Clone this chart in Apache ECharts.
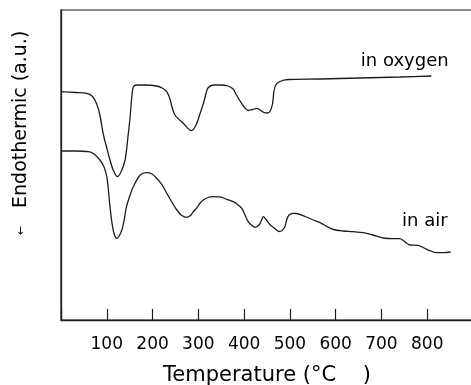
<!DOCTYPE html>
<html>
<head>
<meta charset="utf-8">
<script src="https://cdn.jsdelivr.net/npm/echarts@6/dist/echarts.min.js"></script>
<style>
  html, body { margin: 0; padding: 0; background: #fff; }
  #chart { width: 471px; height: 385px; }
</style>
</head>
<body>
<div id="chart"></div>
<script>
// DTA traces: temperature (°C) and heat-flow signal (arbitrary units)
const oxygenTemp = [0, 31, 56, 68, 78, 85, 92, 100, 107, 114, 123, 131, 140, 146, 151, 155, 158, 165, 183, 209, 221, 231, 238, 242, 249, 267, 285, 295, 304, 312, 317, 321, 333, 347, 365, 376, 382, 391, 400, 409, 419, 427, 435, 443, 451, 457, 462, 465, 469, 478, 496, 566, 653, 740, 809];
const oxygenSig  = [228.3, 227.5, 226.7, 224, 216, 205, 186.7, 172, 160, 150, 143.3, 148, 160, 182, 203.3, 225, 233, 235, 235, 234, 232, 228.3, 221, 214, 205, 196.7, 189.3, 195, 206.7, 218, 227, 232, 235, 235, 234, 231, 226, 219, 213, 209.5, 210.5, 211.7, 210, 207.5, 207, 209, 216, 228, 235, 238.5, 240.5, 241, 242, 243, 244];

const airTemp = [0, 31, 60, 72, 85, 94, 100, 104, 107, 114, 122, 127, 133, 138, 143, 151, 158, 173, 187, 199, 209, 221, 231, 242, 253, 264, 275, 284, 290, 296, 304, 311, 321, 333, 347, 362, 376, 387, 395, 402, 409, 417, 424, 430, 435, 439, 442, 448, 456, 467, 476, 483, 489, 493, 498, 507, 515, 533, 551, 569, 581, 595, 616, 638, 660, 681, 704, 725, 740, 749, 762, 780, 793, 806, 820, 836, 851];
const airSig  = [169, 169, 168.3, 166, 160, 153, 143.3, 128, 113.3, 90, 81.7, 84, 90, 100, 113.3, 125, 133.3, 145, 147.3, 146, 141.7, 135, 126.7, 118, 110, 104.5, 102.7, 105, 109, 111.7, 117, 120, 122.5, 123.3, 123.1, 120.7, 118.3, 115, 111.7, 105, 98.3, 94.5, 92.7, 94, 96.7, 101, 103.3, 100.5, 95.5, 91.5, 88.5, 89.5, 93.3, 100, 105, 106.7, 106.5, 103.5, 100, 96.7, 93.5, 90.5, 89, 88.3, 87.3, 85, 82, 81.3, 81.3, 79, 75, 74.7, 72, 69.3, 67.3, 67.3, 68];

const xTicks = { min: 0, max: 900, interval: 100 };
const yRange = { min: 0, max: 310 };

const ink = '#1c1c1c';

const chart = echarts.init(document.getElementById('chart'), null, { renderer: 'canvas' });

function pairs(xs, ys) {
  return xs.map((x, i) => [x, ys[i]]);
}

chart.setOption({
  animation: false,
  backgroundColor: '#ffffff',
  grid: {
    left: 61, top: 10, width: 412, height: 310,
    containLabel: false, outerBoundsMode: 'none',
    show: true, borderColor: ink, borderWidth: 1.2, backgroundColor: 'transparent'
  },
  xAxis: {
    type: 'value',
    min: xTicks.min, max: xTicks.max, interval: xTicks.interval,
    splitLine: { show: false },
    axisLine: { show: true, lineStyle: { color: ink, width: 1.3 } },
    axisTick: { show: true, inside: true, length: 11, lineStyle: { color: ink, width: 1.2 } },
    axisLabel: {
      color: '#000', fontFamily: 'DejaVu Sans', fontSize: 17, margin: 16,
      formatter: v => (v === 0 || v > 800) ? '' : String(v)
    },
    name: 'Temperature (°C    )',
    nameLocation: 'middle',
    nameGap: 45,
    nameTextStyle: { color: '#000', fontFamily: 'DejaVu Sans', fontSize: 21 }
  },
  yAxis: {
    type: 'value',
    min: yRange.min, max: yRange.max,
    splitLine: { show: false },
    axisLine: { show: true, lineStyle: { color: ink, width: 1.3 } },
    axisTick: { show: false },
    axisLabel: { show: false },
    name: '{a|←}   Endothermic (a.u.)',
    nameLocation: 'middle',
    nameRotate: 90,
    nameGap: 30,
    nameTextStyle: {
      color: '#000', fontFamily: 'DejaVu Sans', fontSize: 19,
      padding: [0, 0, 0, 64],
      rich: { a: { fontSize: 11, fontFamily: 'DejaVu Sans', color: '#000' } }
    }
  },
  series: [
    {
      name: 'in oxygen',
      type: 'line',
      data: pairs(oxygenTemp, oxygenSig),
      smooth: 0.3,
      showSymbol: false,
      lineStyle: { color: ink, width: 1.3 },
      markPoint: {
        symbol: 'circle', symbolSize: 0,
        data: [{ coord: [655, 259] }],
        label: {
          show: true, position: 'right', distance: 0,
          formatter: 'in oxygen', color: '#000',
          fontFamily: 'DejaVu Sans', fontSize: 18
        }
      }
    },
    {
      name: 'in air',
      type: 'line',
      data: pairs(airTemp, airSig),
      smooth: 0.3,
      showSymbol: false,
      lineStyle: { color: ink, width: 1.3 },
      markPoint: {
        symbol: 'circle', symbolSize: 0,
        data: [{ coord: [745, 99] }],
        label: {
          show: true, position: 'right', distance: 0,
          formatter: 'in air', color: '#000',
          fontFamily: 'DejaVu Sans', fontSize: 18
        }
      }
    }
  ]
});
</script>
</body>
</html>
